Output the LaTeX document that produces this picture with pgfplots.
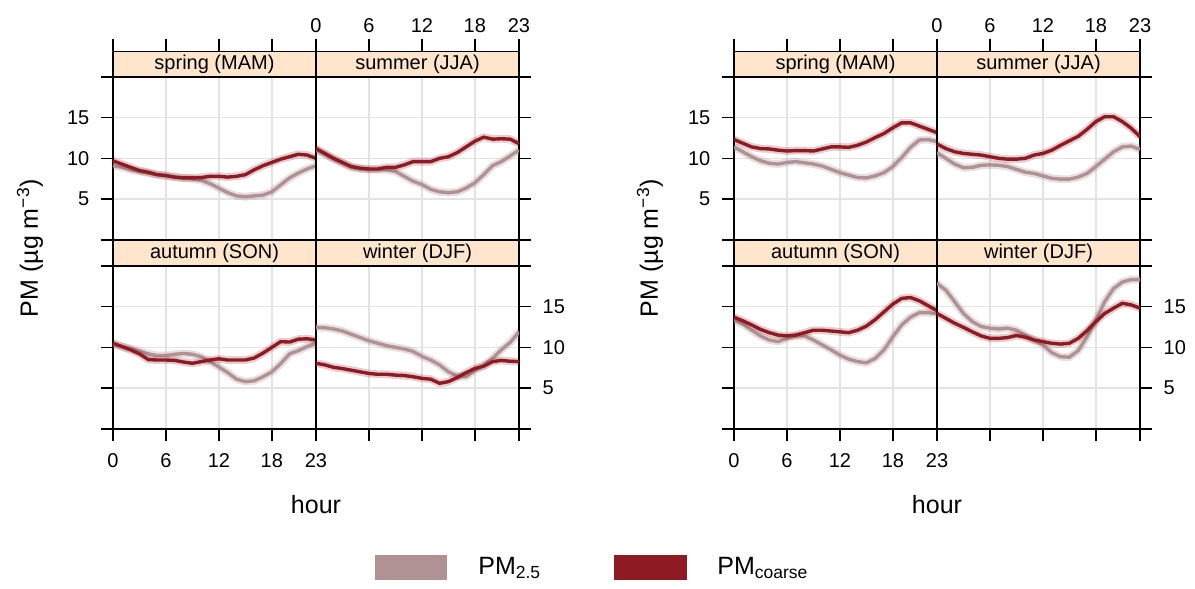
\documentclass[border=0pt]{standalone}
\usepackage{fontspec}
\setmainfont{Liberation Sans}
\usepackage{pgfplots}
\usepackage{pgfplotstable}
\pgfplotsset{compat=1.18}
\definecolor{pmfine}{HTML}{B09294}
\definecolor{pmcoarse}{HTML}{8E1B24}
\definecolor{stripbg}{HTML}{FFE5CC}
\definecolor{gridc}{HTML}{E3E3E3}

\pgfplotstableread{
h f c
0 9.1 9.7
1 8.9 9.3
2 8.6 8.9
3 8.4 8.5
4 8.2 8.3
5 8.0 8.0
6 7.85 7.9
7 7.7 7.7
8 7.6 7.6
9 7.5 7.6
10 7.3 7.65
11 6.9 7.8
12 6.35 7.8
13 5.8 7.7
14 5.4 7.8
15 5.3 8.0
16 5.4 8.6
17 5.5 9.1
18 5.9 9.5
19 6.75 9.9
20 7.6 10.2
21 8.2 10.5
22 8.7 10.4
23 9.1 10.0
}\springL

\pgfplotstableread{
h f c
0 11.1 11.2
1 10.5 10.6
2 9.9 10.0
3 9.4 9.5
4 8.9 9.0
5 8.7 8.8
6 8.6 8.7
7 8.6 8.7
8 8.6 8.9
9 8.4 8.9
10 7.8 9.2
11 7.2 9.6
12 6.8 9.6
13 6.2 9.6
14 5.9 10.0
15 5.8 10.2
16 5.9 10.7
17 6.35 11.4
18 7.0 12.1
19 8.0 12.6
20 9.1 12.35
21 9.6 12.4
22 10.3 12.35
23 11.0 11.8
}\summerL

\pgfplotstableread{
h f c
0 10.4 10.5
1 10.1 10.1
2 9.85 9.7
3 9.55 9.2
4 9.2 8.5
5 9.0 8.45
6 9.0 8.45
7 9.15 8.4
8 9.25 8.2
9 9.15 8.05
10 8.85 8.25
11 8.25 8.45
12 7.6 8.6
13 6.9 8.45
14 6.1 8.45
15 5.8 8.45
16 5.9 8.7
17 6.4 9.3
18 7.0 10.0
19 8.0 10.7
20 9.2 10.65
21 9.6 11.0
22 10.1 11.05
23 10.5 10.9
}\autumnL

\pgfplotstableread{
h f c
0 12.45 8.05
1 12.4 7.85
2 12.25 7.55
3 12.0 7.4
4 11.6 7.2
5 11.2 7.0
6 10.8 6.8
7 10.5 6.7
8 10.2 6.7
9 10.0 6.6
10 9.8 6.55
11 9.5 6.4
12 8.9 6.2
13 8.45 6.1
14 7.85 5.6
15 7.0 5.8
16 6.5 6.3
17 6.4 6.9
18 7.2 7.4
19 7.8 7.7
20 8.65 8.25
21 9.7 8.4
22 10.6 8.3
23 11.9 8.25
}\winterL

\pgfplotstableread{
h f c
0 11.4 12.3
1 10.8 11.85
2 10.2 11.4
3 9.7 11.2
4 9.4 11.15
5 9.3 11.0
6 9.5 10.9
7 9.6 10.95
8 9.45 10.95
9 9.3 10.9
10 9.05 11.15
11 8.65 11.4
12 8.25 11.4
13 7.95 11.35
14 7.65 11.6
15 7.6 12.0
16 7.85 12.55
17 8.25 13.05
18 9.0 13.75
19 10.1 14.35
20 11.35 14.35
21 12.25 13.95
22 12.3 13.55
23 12.05 13.15
}\springR

\pgfplotstableread{
h f c
0 10.7 11.75
1 10.0 11.2
2 9.3 10.8
3 8.85 10.6
4 8.9 10.5
5 9.15 10.4
6 9.2 10.2
7 9.15 10.0
8 9.0 9.9
9 8.65 9.9
10 8.3 10.0
11 8.15 10.4
12 7.85 10.6
13 7.55 11.0
14 7.45 11.6
15 7.45 12.15
16 7.7 12.7
17 8.15 13.55
18 9.0 14.5
19 9.9 15.1
20 10.8 15.1
21 11.4 14.5
22 11.5 13.7
23 11.1 12.65
}\summerR

\pgfplotstableread{
h f c
0 13.35 13.7
1 12.85 13.25
2 12.1 12.75
3 11.4 12.2
4 10.9 11.8
5 10.7 11.5
6 11.1 11.4
7 11.4 11.5
8 11.4 11.8
9 10.9 12.1
10 10.3 12.1
11 9.7 12.0
12 9.05 11.9
13 8.55 11.8
14 8.25 12.1
15 8.1 12.6
16 8.65 13.4
17 9.7 14.35
18 11.3 15.3
19 12.75 16.0
20 13.7 16.1
21 14.25 15.7
22 14.25 15.1
23 14.1 14.5
}\autumnR

\pgfplotstableread{
h f c
0 17.85 14.15
1 17.0 13.55
2 15.6 12.95
3 14.15 12.45
4 13.15 11.9
5 12.55 11.4
6 12.35 11.1
7 12.25 11.1
8 12.35 11.2
9 12.1 11.45
10 11.5 11.25
11 10.9 10.9
12 10.3 10.7
13 9.35 10.5
14 8.85 10.4
15 8.8 10.5
16 9.6 11.1
17 11.3 12.05
18 13.35 13.15
19 15.6 14.15
20 17.2 14.8
21 18.0 15.4
22 18.3 15.2
23 18.3 14.8
}\winterR

\pgfplotsset{
  panel/.style={
    scale only axis, width=101.5pt, height=94.3pt, anchor=south west,
    xmin=0, xmax=23, ymin=0, ymax=23.1,
    xtick={0,6,12,18,23}, ytick={0,5,10,15,20},
    xticklabels={,,,,}, yticklabels={,,,,},
    tick align=outside, major tick length=6pt,
    axis line style={line width=0.8pt},
    every tick/.append style={line width=0.8pt, black},
    grid=major, major grid style={line width=0.8pt, draw=gridc},
    ticklabel style={font=\fontsize{10}{12}\selectfont},
    yticklabel shift=2.3pt,
    line join=round,
  },
  toprow/.style={xtick pos=upper},
  botrow/.style={xtick pos=lower, xticklabel shift=2.8pt},
  leftcol/.style={ytick pos=left},
  rightcol/.style={ytick pos=right},
  ylabs/.style={yticklabels={,5,10,15,}},
  xlabs/.style={xticklabels={0,6,12,18,23}},
}

\newcommand{\pmlines}[2]{%
  \addplot[pmfine, line width=3.9pt, opacity=0.3, mark=none] table[x=h,y=f]{#1};
  \addplot[pmfine, line width=1.7pt, mark=none] table[x=h,y=f]{#1};
  \addplot[pmcoarse, line width=3.9pt, opacity=0.22, mark=none] table[x=h,y=c]{#1};
  \addplot[pmcoarse, line width=1.7pt, mark=none] table[x=h,y=c]{#1};
  \draw[line width=0.8pt, fill=stripbg] (axis cs:0,20) rectangle (axis cs:23,23.1);
  \node[font=\fontsize{10}{12}\selectfont] at (axis cs:11.5,21.55) {#2};
}

\begin{document}
\begin{tikzpicture}
\useasboundingbox (0,0) rectangle (597.5pt,294.5pt);

% ---------- left group ----------
\begin{axis}[panel, toprow, leftcol, ylabs, at={(56.5pt,174.5pt)}]
\pmlines{\springL}{spring (MAM)}
\end{axis}
\begin{axis}[panel, toprow, rightcol, xlabs, at={(158pt,174.5pt)}]
\pmlines{\summerL}{summer (JJA)}
\end{axis}
\begin{axis}[panel, botrow, leftcol, xlabs, at={(56.5pt,80pt)}]
\pmlines{\autumnL}{autumn (SON)}
\end{axis}
\begin{axis}[panel, botrow, rightcol, ylabs, at={(158pt,80pt)}]
\pmlines{\winterL}{winter (DJF)}
\end{axis}

% ---------- right group ----------
\begin{axis}[panel, toprow, leftcol, ylabs, at={(367pt,174.5pt)}]
\pmlines{\springR}{spring (MAM)}
\end{axis}
\begin{axis}[panel, toprow, rightcol, xlabs, at={(468.5pt,174.5pt)}]
\pmlines{\summerR}{summer (JJA)}
\end{axis}
\begin{axis}[panel, botrow, leftcol, xlabs, at={(367pt,80pt)}]
\pmlines{\autumnR}{autumn (SON)}
\end{axis}
\begin{axis}[panel, botrow, rightcol, ylabs, at={(468.5pt,80pt)}]
\pmlines{\winterR}{winter (DJF)}
\end{axis}

% axis titles
\node[rotate=90, font=\fontsize{12.5}{15}\selectfont] at (15pt,170.5pt) {PM (µg m\textsuperscript{−3})};
\node[rotate=90, font=\fontsize{12.5}{15}\selectfont] at (325pt,170.5pt) {PM (µg m\textsuperscript{−3})};
\node[font=\fontsize{12.5}{15}\selectfont] at (158pt,42pt) {hour};
\node[font=\fontsize{12.5}{15}\selectfont] at (468.5pt,42pt) {hour};

% legend
\fill[pmfine] (187.5pt,4.5pt) rectangle (223.5pt,17pt);
\node[anchor=west, inner sep=0pt, font=\fontsize{12.5}{15}\selectfont] at (239pt,10.5pt) {PM\textsubscript{2.5}};
\fill[pmcoarse] (307pt,4.5pt) rectangle (343.5pt,17pt);
\node[anchor=west, inner sep=0pt, font=\fontsize{12.5}{15}\selectfont] at (358.5pt,10.5pt) {PM\textsubscript{coarse}};
\end{tikzpicture}
\end{document}
